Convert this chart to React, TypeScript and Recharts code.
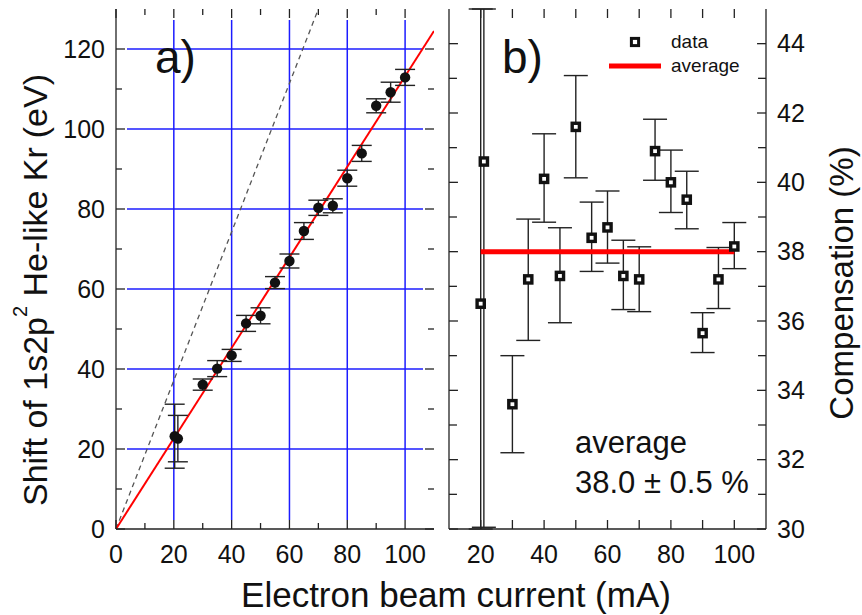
import React from 'react';
import {
  ComposedChart,
  Scatter,
  Line,
  XAxis,
  YAxis,
  ErrorBar,
  ReferenceLine,
  ReferenceArea,
  Legend,
} from 'recharts';

// panel a) - shift of the 1s2p2 line vs. beam current
const shiftCurrent = [20.3, 21.4, 30, 35, 40, 45, 50, 55, 60, 65, 70, 75, 80, 85, 90, 95, 100];
const shiftEv = [23.2, 22.6, 36.1, 40.1, 43.4, 51.4, 53.3, 61.6, 67.0, 74.5, 80.3, 80.8, 87.7, 93.9, 105.8, 109.2, 112.9];
const shiftErr = [8, 5.8, 1.4, 2, 1.5, 2, 2, 1.5, 1.75, 2.1, 1.9, 1.75, 2, 2, 1.75, 2.5, 2];
const fitCurrent = [0, 110];
const fitEv = [0, 124.5];
const uncompCurrent = [0, 70];
const uncompEv = [0, 130];

// panel b) - compensation, error bars (low / high)
const compCurrent = [20, 21, 30, 35, 40, 45, 50, 55, 60, 65, 70, 75, 80, 85, 90, 95, 100];
const compPct = [36.5, 40.6, 33.6, 37.2, 40.1, 37.3, 41.6, 38.4, 38.7, 37.3, 37.2, 40.9, 40.0, 39.5, 35.65, 37.2, 38.15];
const compErrLow = [6.5, 10.55, 1.4, 1.76, 1.25, 1.35, 1.47, 0.97, 1.03, 0.97, 0.93, 0.84, 0.87, 0.84, 0.56, 0.84, 0.64];
const compErrHigh = [8.5, 4.4, 1.4, 1.74, 1.3, 1.39, 1.48, 1.03, 1.05, 1.03, 0.94, 0.92, 0.93, 0.82, 0.59, 0.92, 0.69];
const avgCurrent = [20, 100];
const avgPct = [38.0, 38.0];

// ticks / grid
const aXTicks = [0, 10, 20, 30, 40, 50, 60, 70, 80, 90, 100];
const aYTicks = [0, 10, 20, 30, 40, 50, 60, 70, 80, 90, 100, 110, 120];
const aGridX = [20, 40, 60, 80, 100];
const aGridY = [20, 40, 60, 80, 100, 120];
const bXTicks = [20, 30, 40, 50, 60, 70, 80, 90, 100];
const bYTicks = [30, 31, 32, 33, 34, 35, 36, 37, 38, 39, 40, 41, 42, 43, 44];

const shiftData = shiftCurrent.map((x, i) => ({ x, y: shiftEv[i], err: shiftErr[i] }));
const fitData = fitCurrent.map((x, i) => ({ x, y: fitEv[i] }));
const uncompData = uncompCurrent.map((x, i) => ({ x, y: uncompEv[i] }));
const compData = compCurrent.map((x, i) => ({ x, y: compPct[i], err: [compErrLow[i], compErrHigh[i]] }));
const avgData = avgCurrent.map((x, i) => ({ x, y: avgPct[i] }));

const AX = '#222';
const TXT = '#111';
const BLUE = '#1c1cff';

const A_X: [number, number] = [0, 110];
const A_Y: [number, number] = [0, 130];
const B_X: [number, number] = [10, 110];
const B_Y: [number, number] = [30, 45];
const PLOT_W = 318;
const PLOT_H = 520;

// inward tick marks on all four sides, lengths given in px
function frameTicks(xd: [number, number], yd: [number, number], xt: number[], yt: number[],
  xMajor: number, yMajor: number, majorPx: number, minorPx: number) {
  const ux = (xd[1] - xd[0]) / PLOT_W;
  const uy = (yd[1] - yd[0]) / PLOT_H;
  const out: any[] = [];
  xt.forEach((v) => {
    const l = (v % xMajor === 0 ? majorPx : minorPx) * uy;
    out.push(<ReferenceLine key={'b' + v} ifOverflow="visible" segment={[{ x: v, y: yd[0] }, { x: v, y: yd[0] + l }]} stroke={AX} strokeWidth={1.3} />);
    out.push(<ReferenceLine key={'t' + v} ifOverflow="visible" segment={[{ x: v, y: yd[1] }, { x: v, y: yd[1] - l }]} stroke={AX} strokeWidth={1.3} />);
  });
  yt.forEach((v) => {
    const l = (v % yMajor === 0 ? majorPx : minorPx) * ux;
    out.push(<ReferenceLine key={'l' + v} ifOverflow="visible" segment={[{ x: xd[0], y: v }, { x: xd[0] + l, y: v }]} stroke={AX} strokeWidth={1.3} />);
    out.push(<ReferenceLine key={'r' + v} ifOverflow="visible" segment={[{ x: xd[1], y: v }, { x: xd[1] - l, y: v }]} stroke={AX} strokeWidth={1.3} />);
  });
  return out;
}

const xLabel = (labelEvery: number) => (p: any) => {
  const v = p.payload.value;
  if (v % labelEvery !== 0) return <g />;
  return (
    <text x={p.x} y={p.y + 34} textAnchor="middle" fontSize={25} fill={TXT}>
      {v}
    </text>
  );
};

const yLabel = (side: 'left' | 'right', labelEvery: number) => (p: any) => {
  const v = p.payload.value;
  if (v % labelEvery !== 0) return <g />;
  return (
    <text
      x={side === 'left' ? p.x - 11 : p.x + 11}
      y={p.y + 8.5}
      textAnchor={side === 'left' ? 'end' : 'start'}
      fontSize={25}
      fill={TXT}
    >
      {v}
    </text>
  );
};

const dotShape = (p: any) => <circle cx={p.cx} cy={p.cy} r={5.2} fill="#111" />;
const squareShape = (p: any) => (
  <rect x={p.cx - 3.6} y={p.cy - 3.6} width={7.2} height={7.2} fill="#fff" stroke="#111" strokeWidth={3.4} />
);

const LegendBox = () => (
  <svg width={150} height={56} style={{ display: 'block' }}>
    <rect x={31.4} y={13.4} width={7.2} height={7.2} fill="#fff" stroke="#111" strokeWidth={3} />
    <text x={71} y={23} fontSize={19} fill={TXT}>data</text>
    <line x1={9} x2={61} y1={41} y2={41} stroke="#ff0000" strokeWidth={5} />
    <text x={71} y={47} fontSize={19} fill={TXT}>average</text>
  </svg>
);

const axisLine = { stroke: AX, strokeWidth: 1.3 };

const PanelA = () => (
  <ComposedChart width={440} height={615} margin={{ top: 9, right: 6, bottom: 0, left: 0 }}>
    <XAxis
      dataKey="x"
      type="number"
      domain={A_X}
      allowDataOverflow
      ticks={aXTicks}
      interval={0}
      height={86}
      tickSize={0}
      tickMargin={0}
      tickLine={false}
      axisLine={axisLine}
      tick={xLabel(20)}
    />
    <XAxis xAxisId="top" orientation="top" dataKey="x" type="number" domain={A_X} allowDataOverflow
      height={0} tick={false} tickLine={false} axisLine={axisLine} />
    <YAxis
      type="number"
      domain={A_Y}
      allowDataOverflow
      ticks={aYTicks}
      interval={0}
      width={116}
      tickSize={0}
      tickMargin={0}
      tickLine={false}
      axisLine={axisLine}
      tick={yLabel('left', 20)}
    />
    <YAxis yAxisId="right" orientation="right" type="number" domain={A_Y} allowDataOverflow
      width={0} tick={false} tickLine={false} axisLine={axisLine} />
    {aGridX.map((v) => (
      <ReferenceLine key={'gx' + v} segment={[{ x: v, y: 2.25 }, { x: v, y: 127.25 }]} stroke={BLUE} strokeWidth={1.5} />
    ))}
    {aGridY.map((v) => (
      <ReferenceLine key={'gy' + v} segment={[{ x: 3.8, y: v }, { x: 106.2, y: v }]} stroke={BLUE} strokeWidth={1.5} />
    ))}
    {frameTicks(A_X, A_Y, aXTicks, aYTicks, 20, 20, 9, 6)}
    <ReferenceArea x1={12.5} x2={29} y1={110.5} y2={124} fill="#fff" fillOpacity={1} stroke="none" />
    <Line
      data={uncompData}
      dataKey="y"
      type="linear"
      stroke="#555"
      strokeWidth={1.3}
      strokeDasharray="5 4"
      dot={false}
      activeDot={false}
      isAnimationActive={false}
    />
    <Line
      data={fitData}
      dataKey="y"
      type="linear"
      stroke="#ff0000"
      strokeWidth={2}
      dot={false}
      activeDot={false}
      isAnimationActive={false}
    />
    <Scatter data={shiftData} dataKey="y" shape={dotShape} isAnimationActive={false}>
      <ErrorBar dataKey="err" direction="y" width={10} stroke={AX} strokeWidth={1.4} />
    </Scatter>
  </ComposedChart>
);

const PanelB = () => (
  <ComposedChart width={422} height={615} margin={{ top: 9, right: 0, bottom: 0, left: 0 }}>
    <XAxis
      dataKey="x"
      type="number"
      domain={B_X}
      allowDataOverflow
      ticks={bXTicks}
      interval={0}
      height={86}
      tickSize={0}
      tickMargin={0}
      tickLine={false}
      axisLine={axisLine}
      tick={xLabel(20)}
    />
    <XAxis xAxisId="top" orientation="top" dataKey="x" type="number" domain={B_X} allowDataOverflow
      height={0} tick={false} tickLine={false} axisLine={axisLine} />
    <YAxis yAxisId="left" type="number" domain={B_Y} allowDataOverflow
      width={9} tick={false} tickLine={false} axisLine={axisLine} />
    <YAxis
      orientation="right"
      type="number"
      domain={B_Y}
      allowDataOverflow
      ticks={bYTicks}
      interval={0}
      width={96}
      tickSize={0}
      tickMargin={0}
      tickLine={false}
      axisLine={axisLine}
      tick={yLabel('right', 2)}
    />
    {frameTicks(B_X, B_Y, bXTicks, bYTicks, 10, 2, 9, 8)}
    <Scatter data={compData} dataKey="y" shape={squareShape} isAnimationActive={false}>
      <ErrorBar dataKey="err" direction="y" width={12} stroke={AX} strokeWidth={1.4} />
    </Scatter>
    <Line
      data={avgData}
      dataKey="y"
      type="linear"
      stroke="#ff0000"
      strokeWidth={5}
      dot={false}
      activeDot={false}
      isAnimationActive={false}
    />
    <Legend
      layout="vertical"
      align="center"
      verticalAlign="middle"
      wrapperStyle={{ top: 25, left: 160, width: 150 }}
      content={() => <LegendBox />}
    />
  </ComposedChart>
);

export default function App() {
  return (
    <div
      style={{
        position: 'absolute',
        left: 0,
        top: 0,
        width: 862,
        height: 615,
        background: '#fff',
        fontFamily: '"Liberation Sans", Arial, sans-serif',
      }}
    >
      <div style={{ position: 'absolute', left: 0, top: 0 }}>
        <PanelA />
      </div>
      <div style={{ position: 'absolute', left: 440, top: 0 }}>
        <PanelB />
      </div>
      <svg width={862} height={615} style={{ position: 'absolute', left: 0, top: 0, pointerEvents: 'none' }}>
        <text x={155} y={73} fontSize={46} fill={TXT}>a)</text>
        <text x={502} y={73} fontSize={46} fill={TXT}>b)</text>
        <text transform="translate(47,290) rotate(-90)" textAnchor="middle" fontSize={34} fill={TXT}>
          Shift of 1s2p
          <tspan dy={-20} fontSize={20}>2</tspan>
          <tspan dy={20}> He-like Kr</tspan>
          <tspan dx={9}>(eV)</tspan>
        </text>
        <text transform="translate(853,283) rotate(-90)" textAnchor="middle" fontSize={33} fill={TXT}>
          Compensation (%)
        </text>
        <text x={456} y={607} textAnchor="middle" fontSize={35} fill={TXT}>
          Electron beam current (mA)
        </text>
        <text x={575} y={453} fontSize={31} fill={TXT}>average</text>
        <text x={575} y={492.5} fontSize={31} fill={TXT}>38.0 ± 0.5 %</text>
      </svg>
    </div>
  );
}
